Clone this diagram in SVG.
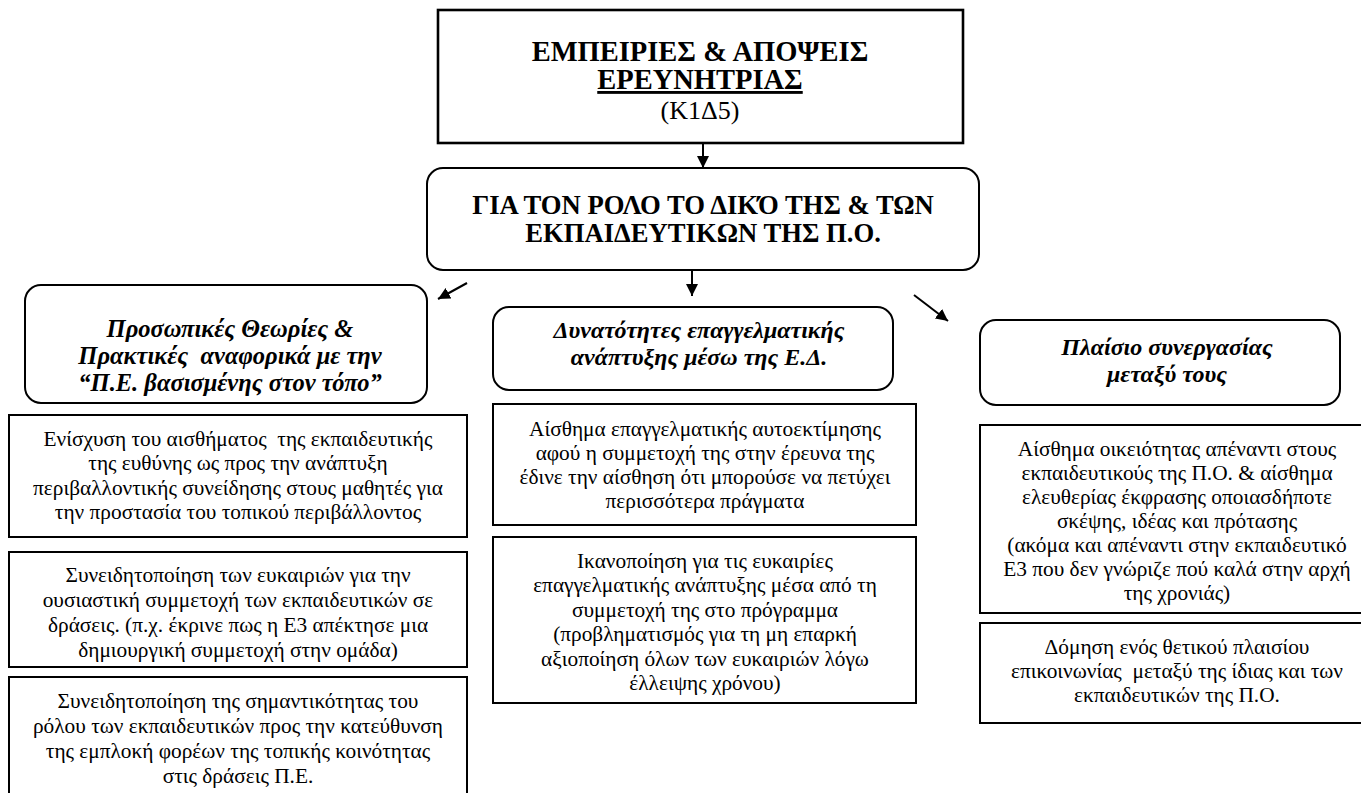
<svg xmlns="http://www.w3.org/2000/svg" width="1361" height="793" viewBox="0 0 1361 793">
  <style>
    .box { fill: #fff; stroke: #000; stroke-width: 2; }
    .thick { stroke-width: 2.6; }
    .txt { font-family: "Liberation Serif", "Times New Roman", Tinos, "DejaVu Serif", "Noto Serif", serif; font-size: 21.33px; text-anchor: middle; fill: #000; }
    .head { font-weight: bold; font-style: italic; font-size: 24px; }
    .caps { font-weight: bold; }
    .title { font-weight: bold; font-size: 28.5px; }
    .conn { stroke: #000; stroke-width: 2; fill: none; }
  </style>
  <defs>
    <marker id="arrow" viewBox="0 0 12 12" refX="12" refY="6" markerWidth="12" markerHeight="12" markerUnits="userSpaceOnUse" orient="auto">
      <path d="M0,0 L12,6 L0,12 z" fill="#000"/>
    </marker>
  </defs>
  <rect width="1361" height="793" fill="#fff"/>

  <!-- top: researcher's experiences and views -->
  <g id="node-top">
    <rect class="box thick" x="438" y="10" width="525" height="133"/>
    <text class="txt title" x="700" y="61">ΕΜΠΕΙΡΙΕΣ &amp; ΑΠΟΨΕΙΣ</text>
    <text class="txt title" x="700" y="89" text-decoration="underline">ΕΡΕΥΝΗΤΡΙΑΣ</text>
    <text class="txt" x="700" y="119" style="font-size:26px">(Κ1Δ5)</text>
  </g>

  <!-- role of herself and the teachers -->
  <g id="node-role">
    <rect class="box" x="427" y="168" width="552" height="102" rx="16"/>
    <text class="txt caps" x="703" y="214" style="font-size:26.67px">ΓΙΑ ΤΟΝ ΡΟΛΟ ΤΟ ΔΙΚΌ ΤΗΣ &amp; ΤΩΝ</text>
    <text class="txt caps" x="703" y="242" style="font-size:26.67px">ΕΚΠΑΙΔΕΥΤΙΚΩΝ ΤΗΣ Π.Ο.</text>
  </g>

  <!-- category headers -->
  <g id="node-theories">
    <rect class="box" x="25" y="285" width="402" height="118" rx="16"/>
    <text class="txt head" x="230" y="337" style="font-size:24.5px">Προσωπικές Θεωρίες &amp;</text>
    <text class="txt head" x="230" y="364" style="font-size:24.5px" xml:space="preserve">Πρακτικές  αναφορικά με την</text>
    <text class="txt head" x="230" y="391" style="font-size:24.5px">“Π.Ε. βασισμένης στον τόπο”</text>
  </g>
  <g id="node-development">
    <rect class="box" x="493" y="307" width="400" height="83" rx="16"/>
    <text class="txt head" x="699" y="338">Δυνατότητες επαγγελματικής</text>
    <text class="txt head" x="699" y="365">ανάπτυξης μέσω της Ε.Δ.</text>
  </g>
  <g id="node-cooperation">
    <rect class="box" x="980" y="320" width="360" height="85" rx="16"/>
    <text class="txt head" x="1167" y="355">Πλαίσιο συνεργασίας</text>
    <text class="txt head" x="1167" y="382">μεταξύ τους</text>
  </g>

  <!-- left column details -->
  <g id="node-left-1">
    <rect class="box" x="9" y="415" width="458" height="122"/>
    <text class="txt" x="238" y="446" xml:space="preserve">Ενίσχυση του αισθήματος  της εκπαιδευτικής</text>
    <text class="txt" x="238" y="470">της ευθύνης ως προς την ανάπτυξη</text>
    <text class="txt" x="238" y="495">περιβαλλοντικής συνείδησης στους μαθητές για</text>
    <text class="txt" x="238" y="519">την προστασία του τοπικού περιβάλλοντος</text>
  </g>
  <g id="node-left-2">
    <rect class="box" x="9" y="552" width="458" height="115"/>
    <text class="txt" x="238" y="582">Συνειδητοποίηση των ευκαιριών για την</text>
    <text class="txt" x="238" y="607">ουσιαστική συμμετοχή των εκπαιδευτικών σε</text>
    <text class="txt" x="238" y="632">δράσεις. (π.χ. έκρινε πως η Ε3 απέκτησε μια</text>
    <text class="txt" x="238" y="657">δημιουργική συμμετοχή στην ομάδα)</text>
  </g>
  <g id="node-left-3">
    <rect class="box" x="9" y="677" width="458" height="140"/>
    <text class="txt" x="238" y="708">Συνειδητοποίηση της σημαντικότητας του</text>
    <text class="txt" x="238" y="733">ρόλου των εκπαιδευτικών προς την κατεύθυνση</text>
    <text class="txt" x="238" y="758">της εμπλοκή φορέων της τοπικής κοινότητας</text>
    <text class="txt" x="238" y="783">στις δράσεις Π.Ε.</text>
  </g>

  <!-- middle column details -->
  <g id="node-mid-1">
    <rect class="box" x="493" y="404" width="423" height="121"/>
    <text class="txt" x="705" y="436">Αίσθημα επαγγελματικής αυτοεκτίμησης</text>
    <text class="txt" x="705" y="460">αφού η συμμετοχή της στην έρευνα της</text>
    <text class="txt" x="705" y="484">έδινε την αίσθηση ότι μπορούσε να πετύχει</text>
    <text class="txt" x="705" y="508">περισσότερα πράγματα</text>
  </g>
  <g id="node-mid-2">
    <rect class="box" x="493" y="537" width="423" height="166"/>
    <text class="txt" x="705" y="568">Ικανοποίηση για τις ευκαιρίες</text>
    <text class="txt" x="705" y="592">επαγγελματικής ανάπτυξης μέσα από τη</text>
    <text class="txt" x="705" y="617">συμμετοχή της στο πρόγραμμα</text>
    <text class="txt" x="705" y="641">(προβληματισμός για τη μη επαρκή</text>
    <text class="txt" x="705" y="666">αξιοποίηση όλων των ευκαιριών λόγω</text>
    <text class="txt" x="705" y="690">έλλειψης χρόνου)</text>
  </g>

  <!-- right column details -->
  <g id="node-right-1">
    <rect class="box" x="980" y="425" width="400" height="188"/>
    <text class="txt" x="1177" y="456">Αίσθημα οικειότητας απέναντι στους</text>
    <text class="txt" x="1177" y="480">εκπαιδευτικούς της Π.Ο. &amp; αίσθημα</text>
    <text class="txt" x="1177" y="504">ελευθερίας έκφρασης οποιασδήποτε</text>
    <text class="txt" x="1177" y="528">σκέψης, ιδέας και πρότασης</text>
    <text class="txt" x="1177" y="552">(ακόμα και απέναντι στην εκπαιδευτικό</text>
    <text class="txt" x="1177" y="576">Ε3 που δεν γνώριζε πού καλά στην αρχή</text>
    <text class="txt" x="1177" y="600">της χρονιάς)</text>
  </g>
  <g id="node-right-2">
    <rect class="box" x="980" y="623" width="400" height="100"/>
    <text class="txt" x="1177" y="654">Δόμηση ενός θετικού πλαισίου</text>
    <text class="txt" x="1177" y="678" xml:space="preserve">επικοινωνίας  μεταξύ της ίδιας και των</text>
    <text class="txt" x="1177" y="702">εκπαιδευτικών της Π.Ο.</text>
  </g>

  <!-- connectors -->
  <g id="connectors">
    <line class="conn" x1="703" y1="143" x2="703" y2="168" marker-end="url(#arrow)"/>
    <line class="conn" x1="692" y1="270" x2="692" y2="296" marker-end="url(#arrow)"/>
    <line class="conn" x1="467" y1="283" x2="438" y2="299" marker-end="url(#arrow)"/>
    <line class="conn" x1="914" y1="295" x2="948" y2="321" marker-end="url(#arrow)"/>
  </g>
</svg>
